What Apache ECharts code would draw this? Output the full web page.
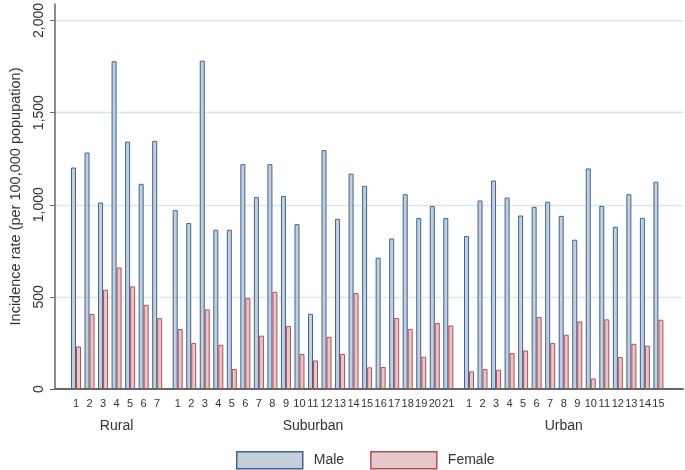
<!DOCTYPE html>
<html>
<head>
<meta charset="utf-8">
<script src="https://cdn.jsdelivr.net/npm/echarts@6/dist/echarts.min.js"></script>
<style>html,body{margin:0;padding:0;background:#fff}#c{width:685px;height:470px}</style>
</head>
<body>
<div id="c"></div>
<script>
var groups = ['Rural', 'Suburban', 'Urban'];
var ruralCats = ['1','2','3','4','5','6','7'];
var suburbanCats = ['1','2','3','4','5','6','7','8','9','10','11','12','13','14','15','16','17','18','19','20','21'];
var urbanCats = ['1','2','3','4','5','6','7','8','9','10','11','12','13','14','15'];
var ruralMale = [1196, 1277, 1007, 1770, 1336, 1108, 1340];
var ruralFemale = [230, 405, 536, 656, 554, 455, 383];
var suburbanMale = [966, 896, 1773, 860, 860, 1214, 1036, 1214, 1043, 890, 406, 1290, 919, 1163, 1097, 709, 813, 1052, 923, 988, 923];
var suburbanFemale = [324, 248, 430, 239, 108, 491, 288, 525, 340, 189, 154, 282, 189, 518, 117, 119, 383, 325, 174, 356, 343];
var urbanMale = [826, 1018, 1126, 1034, 937, 984, 1011, 935, 806, 1191, 989, 876, 1052, 924, 1119];
var urbanFemale = [95, 108, 104, 194, 208, 389, 248, 293, 365, 57, 376, 173, 244, 234, 374];
var yTicks = [0, 500, 1000, 1500, 2000];
var yTitle = 'Incidence rate (per 100,000 popupation)';

var FONT = 'Liberation Sans, Arial, sans-serif';
var TOP = 2, BOTTOM = 81, YMAX = 2090;
var maleFill = '#c4cfdb', maleBorder = '#3d6590';
var femaleFill = '#e6c8cb', femaleBorder = '#b04f58';

var catSets = [ruralCats, suburbanCats, urbanCats];
var maleSets = [ruralMale, suburbanMale, urbanMale];
var femaleSets = [ruralFemale, suburbanFemale, urbanFemale];
var grids = [{left: 52, right: 2, top: TOP, bottom: BOTTOM}];
var xAxes = [{gridIndex: 0, type: 'value', min: 0, max: 1, axisLabel: {show: false}, axisTick: {show: false}, splitLine: {show: false},
  axisLine: {show: true, lineStyle: {color: '#666', width: 2}}}];
var yAxes = [{gridIndex: 0, type: 'value', min: 0, max: YMAX, interval: 500,
  axisLine: {show: true, lineStyle: {color: '#666', width: 1.5}},
  axisTick: {show: true, length: 5, lineStyle: {color: '#666'}, customValues: yTicks},
  axisLabel: {show: true, rotate: 90, margin: 9, fontSize: 14, color: '#333', fontFamily: FONT, customValues: yTicks,
    formatter: function (v) { return Number(v).toLocaleString('en-US'); }},
  splitLine: {show: true, showMaxLine: true, showMinLine: false, lineStyle: {color: '#dbe7ec', width: 1.3}},
  name: yTitle, nameLocation: 'middle', nameGap: 32, nameTextStyle: {fontSize: 14.5, color: '#333', fontFamily: FONT}}];
var series = [];
var step = 13.53;
var centers = [76, 177.7, 469];
for (var g = 0; g < 3; g++) {
  var n = catSets[g].length;
  var left = centers[g] - step / 2;
  grids.push({left: left, width: n * step, top: TOP, bottom: BOTTOM});
  xAxes.push({gridIndex: g + 1, type: 'category', data: catSets[g],
    axisLine: {show: false}, axisTick: {show: false},
    axisLabel: {interval: 0, margin: 9, fontSize: 11, color: '#333', fontFamily: FONT},
    name: groups[g], nameLocation: 'middle', nameGap: 30,
    nameTextStyle: {fontSize: 14, color: '#333', fontFamily: FONT}});
  yAxes.push({gridIndex: g + 1, type: 'value', min: 0, max: YMAX, show: false, splitLine: {show: false}});
  series.push({name: 'Male', type: 'bar', xAxisIndex: g + 1, yAxisIndex: g + 1, data: maleSets[g],
    barWidth: 5, barGap: '0%', itemStyle: {color: maleFill, borderColor: maleBorder, borderWidth: 1}});
  series.push({name: 'Female', type: 'bar', xAxisIndex: g + 1, yAxisIndex: g + 1, data: femaleSets[g],
    barWidth: 5, barGap: '0%', itemStyle: {color: femaleFill, borderColor: femaleBorder, borderWidth: 1}});
}
var chart = echarts.init(document.getElementById('c'), null, {renderer: 'canvas'});
chart.setOption({
  animation: false,
  backgroundColor: '#fff',
  grid: grids, xAxis: xAxes, yAxis: yAxes, series: series,
  legend: {data: ['Male', 'Female'], left: 231, top: 446, itemWidth: 66, itemHeight: 17, itemGap: 26,
    icon: 'rect',
    itemStyle: {borderWidth: 1.5},
    textStyle: {fontSize: 14, color: '#333', fontFamily: FONT, padding: [0, 0, 0, 6]}}
});
</script>
</body>
</html>
